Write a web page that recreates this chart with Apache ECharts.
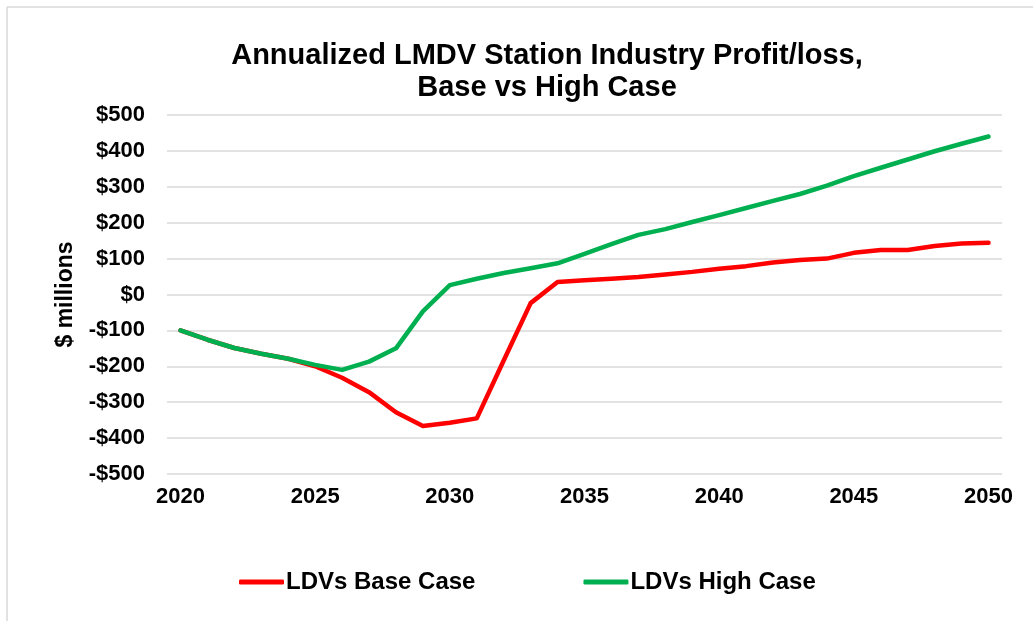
<!DOCTYPE html>
<html>
<head>
<meta charset="utf-8">
<script src="https://cdn.jsdelivr.net/npm/echarts@6/dist/echarts.min.js"></script>
<style>
  html, body { margin: 0; padding: 0; background: #fff; }
  #main { width: 1033px; height: 621px; }
</style>
</head>
<body>
<div id="main"></div>
<script>
var years = []
for (var y = 2020; y <= 2050; y++) years.push(String(y))

var baseCase = [-100, -126, -149, -165, -179, -200, -232, -272, -328, -366,
    -357, -345, -184, -24, 35, 40, 44, 49, 56, 63,
    72, 79, 89, 96, 100, 116, 124, 124, 135, 142, 144]

var highCase = [-100, -126, -149, -165, -179, -196, -210, -187, -150, -47,
    26, 44, 60, 73, 87, 113, 140, 166, 182, 202,
    221, 241, 261, 280, 303, 330, 353, 376, 399, 420, 440]

var yTicks = [-500, -400, -300, -200, -100, 0, 100, 200, 300, 400, 500]

var font = 'Liberation Sans, Arial, sans-serif'

var chart = echarts.init(document.getElementById('main'), null, { renderer: 'canvas' })

chart.setOption({
    animation: false,
    title: {
        text: 'Annualized LMDV Station Industry Profit/loss,\nBase vs High Case',
        left: 542,
        top: 35,
        textAlign: 'center',
        textStyle: {
            fontFamily: font,
            fontSize: 29,
            fontWeight: 'bold',
            color: '#000',
            lineHeight: 32
        }
    },
    graphic: [
        { type: 'line', shape: { x1: 7, y1: 7, x2: 7, y2: 621 }, style: { stroke: '#d9d9d9', lineWidth: 1.5 } },
        { type: 'line', shape: { x1: 7, y1: 7, x2: 1033, y2: 7 }, style: { stroke: '#d9d9d9', lineWidth: 1.5 } }
    ],
    legend: {
        left: 234,
        top: 565,
        icon: 'roundRect',
        itemWidth: 45,
        itemHeight: 5,
        itemGap: 108,
        textStyle: {
            fontFamily: font,
            fontSize: 24,
            fontWeight: 'bold',
            color: '#000',
            padding: [0, 0, 0, -3]
        },
        data: ['LDVs Base Case', 'LDVs High Case']
    },
    grid: {
        left: 167,
        right: 31,
        top: 115,
        bottom: 147
    },
    xAxis: {
        type: 'category',
        data: years,
        boundaryGap: true,
        axisLine: { show: false },
        axisTick: { show: false },
        axisLabel: {
            interval: 4,
            margin: 12,
            fontFamily: font,
            fontSize: 22,
            fontWeight: 'bold',
            color: '#000'
        }
    },
    yAxis: {
        type: 'value',
        min: yTicks[0],
        max: yTicks[yTicks.length - 1],
        interval: 100,
        name: '$ millions',
        nameLocation: 'middle',
        nameGap: 90,
        nameTextStyle: {
            fontFamily: font,
            fontSize: 23,
            fontWeight: 'bold',
            color: '#000'
        },
        axisLine: { show: false },
        axisTick: { show: false },
        splitLine: { lineStyle: { color: '#d9d9d9', width: 1.5 } },
        axisLabel: {
            margin: 22,
            fontFamily: font,
            fontSize: 22,
            fontWeight: 'bold',
            color: '#000',
            formatter: function (v) {
                return v < 0 ? '-$' + Math.abs(v) : '$' + v
            }
        }
    },
    series: [
        {
            name: 'LDVs Base Case',
            type: 'line',
            data: baseCase,
            symbol: 'none',
            color: '#ff0000',
            lineStyle: { width: 4.5, cap: 'round', join: 'round' },
            z: 2
        },
        {
            name: 'LDVs High Case',
            type: 'line',
            data: highCase,
            symbol: 'none',
            color: '#00b050',
            lineStyle: { width: 4.5, cap: 'round', join: 'round' },
            z: 3
        }
    ]
})
</script>
</body>
</html>
